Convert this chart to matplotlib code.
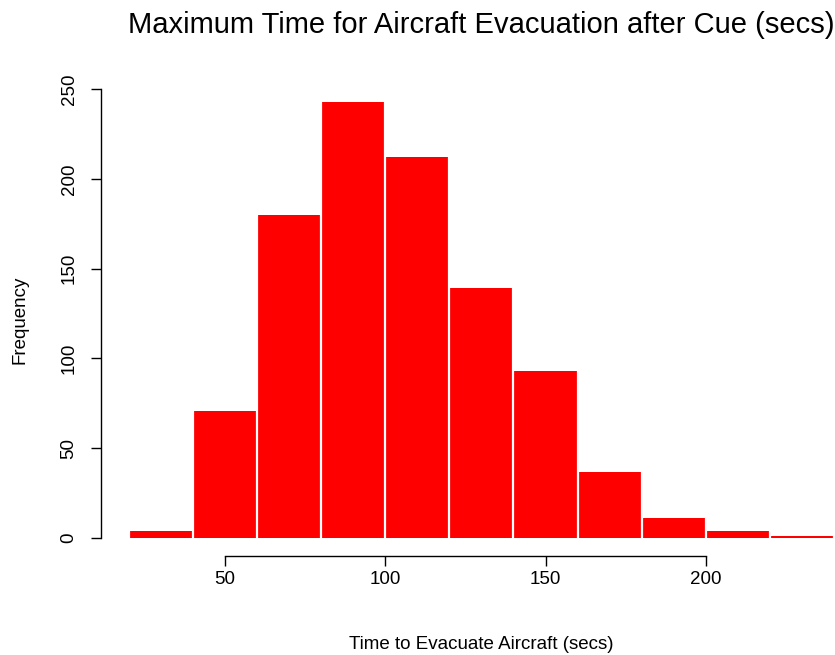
import matplotlib.pyplot as plt

# Histogram data
bin_edges = [20, 40, 60, 80, 100, 120, 140, 160, 180, 200, 220, 240]
counts = [4, 71, 180, 243, 212, 139, 93, 37, 11, 4, 1]
x_ticks = [50, 100, 150, 200]
y_ticks = [0, 50, 100, 150, 200, 250]

plt.rcParams['font.family'] = ['Liberation Sans', 'DejaVu Sans']

W, H = 835, 655
fig = plt.figure(figsize=(W / 100, H / 100), dpi=100)

# R-like plot region (4% padding around data range)
x0, x1 = 100.6, 862.2
y_top, y_bot = 84.1, 555.5
ax = fig.add_axes([x0 / W, 1 - y_bot / H, (x1 - x0) / W, (y_bot - y_top) / H])

widths = [b - a for a, b in zip(bin_edges[:-1], bin_edges[1:])]
ax.bar(bin_edges[:-1], counts, width=widths, align='edge',
       color='#ff0000', linewidth=0)
# white borders between bars (only visible where red is on both sides)
sep_heights = [max(a, b) for a, b in zip([0] + counts, counts + [0])]
ax.vlines(bin_edges, 0, sep_heights, colors='white', linewidth=1.6)

xr = bin_edges[-1] - bin_edges[0]
ax.set_xlim(bin_edges[0] - 0.04 * xr, bin_edges[-1] + 0.04 * xr)
yr = max(counts)
ax.set_ylim(-0.04 * yr, yr + 0.04 * yr)

for s in ['top', 'right']:
    ax.spines[s].set_visible(False)
ax.spines['left'].set_bounds(y_ticks[0], y_ticks[-1])
ax.spines['bottom'].set_bounds(x_ticks[0], x_ticks[-1])
ax.spines['left'].set_linewidth(1.0)
ax.spines['bottom'].set_linewidth(1.0)

ax.set_xticks(x_ticks)
ax.set_yticks(y_ticks)
ax.tick_params(axis='both', direction='out', length=7, width=1.0,
               labelsize=13.5, colors='black')
ax.tick_params(axis='x', pad=4.5)
ax.tick_params(axis='y', labelrotation=90, pad=9.5)
for lbl in ax.get_yticklabels():
    lbl.set_va('center')

ax.set_xlabel('Time to Evacuate Aircraft (secs)', fontsize=13.5, labelpad=34.5)
ax.set_ylabel('Frequency', fontsize=13.5, labelpad=23.5)
ax.set_title('Maximum Time for Aircraft Evacuation after Cue (secs)',
             fontsize=21, pad=37)

fig.savefig('out.png', dpi=100)
